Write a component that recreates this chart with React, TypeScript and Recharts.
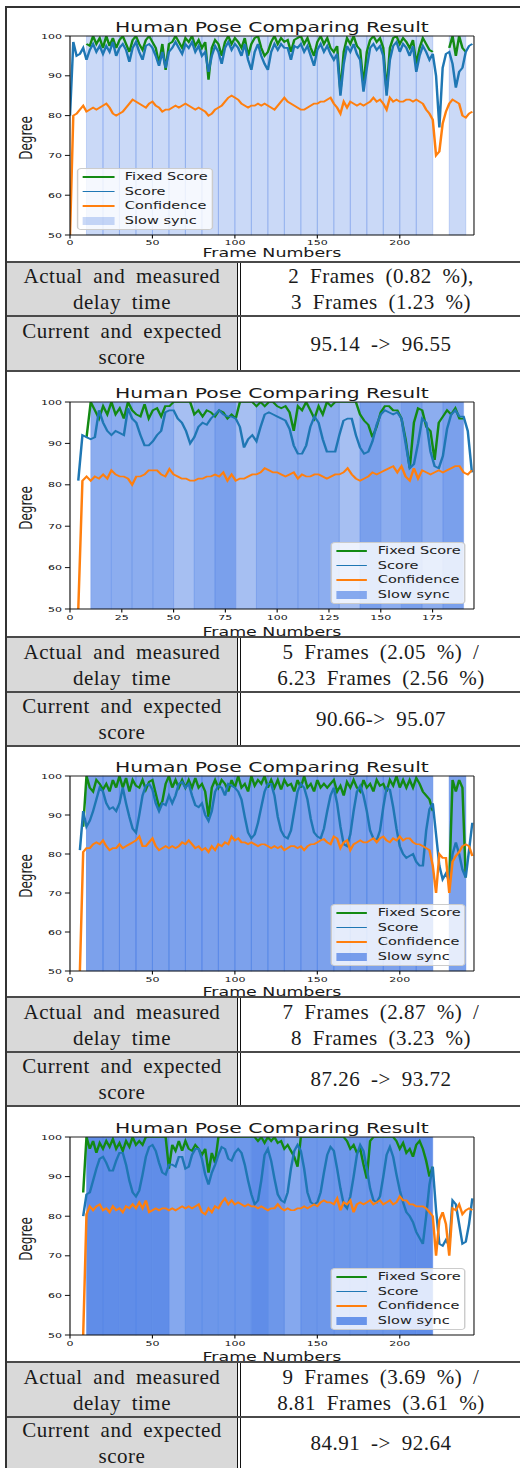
import React from 'react';
import { LineChart, Line, XAxis, YAxis, ReferenceArea, ReferenceLine } from 'recharts';

// ---------- shared labels ----------
const TITLE = 'Human Pose Comparing Result';
const X_LABEL = 'Frame Numbers';
const Y_LABEL = 'Degree';
const SERIES_NAMES = ['Fixed Score', 'Score', 'Confidence', 'Slow sync'];
const ROW_LABELS = [
  ['Actual and measured', 'delay time'],
  ['Current and expected', 'score'],
];
const Y_TICKS = [50, 60, 70, 80, 90, 100];
const X_TICKS_A = [0, 50, 100, 150, 200];
const X_TICKS_B = [0, 25, 50, 75, 100, 125, 150, 175];

// ---------- panel 1 (frames 0..244 step 2) ----------
const p1Frames = Array.from({ length: 123 }, (_, i) => i * 2);
const p1Score = [
  80, 98.5, 95, 95.5, 97, 94, 96.5, 98, 96, 97.5,
  95.5, 97.5, 96, 98.5, 95, 97, 98, 96.5, 93.5, 97,
  98.5, 96, 94, 97.5, 98, 97, 95, 92.5, 96, 92,
  96, 97, 98.5, 97, 95.5, 98, 97, 98.5, 96, 97.5,
  95, 96, 91, 95, 97.5, 96, 93, 97, 98.5, 96.5,
  98, 97, 95, 98, 94, 91.5, 96, 98, 95, 93,
  91.5, 96, 98, 96.5, 98, 97, 97, 94, 97.5, 97,
  98, 96, 97.5, 95, 92.5, 96.5, 98, 96, 97.5, 95.5,
  94, 95.5, 85, 93, 97.5, 96, 98, 95.5, 94, 86,
  92, 97, 98, 96.5, 97.5, 95, 85, 94, 97.5, 98.5,
  96, 98, 97, 95, 97.5, 91, 95, 97.5, 96, 94,
  95.5, 90, 77, 92, 95.5, 96, 93, 87, 91, 92,
  96, 97.5, 98,
];
const p1Fixed = [
  null, null, null, null, null, 98, 97.5, 100, 98, 99.5,
  97, 100, 97.5, 99.5, 97, 99, 100, 98, 96, 99,
  100, 98, 96.5, 99, 100, 98.5, 97, 93, 98, 91.5,
  98, 98.5, 100, 98.5, 97, 99.5, 98.5, 100, 97.5, 99,
  97, 98.5, 89, 97, 99, 98, 95, 98.5, 100, 98,
  99.5, 98.5, 97, 99.5, 95, 98, 99.5, 100, 97, 95,
  96, 98.5, 100, 98, 99.5, 98.5, 99, 96, 99, 99.5,
  100, 98, 99.5, 97, 95, 98.5, 100, 98, 99.5, 97,
  96, 97.5, 86, 96, 99.5, 98, 100, 97.5, 96.5, 87.5,
  96, 99, 100, 98.5, 99.5, 97, 86, 97, 99.5, 100,
  98, 99.5, 98.5, 97, 99, 93, 97, 99.5, 98, 96.5,
  96, null, null, null, null, 97, 100, 95, 100, 97,
  96, null, null,
];
const p1Conf = [
  50, 80, 80.5, 81.5, 82.5, 81, 81.5, 82, 81.5, 82,
  82.5, 83, 82, 80.5, 80, 80.5, 81, 82, 83, 84,
  83.5, 83, 82.5, 82, 83, 83.5, 82.5, 82, 81, 81.5,
  81.5, 82, 82.5, 82, 82.5, 83, 82.5, 82, 81.5, 82,
  81.5, 81, 80, 80.5, 81.5, 82, 82.5, 83.5, 84.5, 85,
  84.5, 84, 83, 82.5, 82, 82.5, 82.5, 83, 82.5, 83,
  82.5, 82, 81.5, 82.5, 83.5, 84.5, 83.5, 83, 82.5, 82,
  81.5, 81.5, 82, 82.5, 83, 83, 83.5, 83.5, 84, 84.5,
  83, 82, 80.5, 83.5, 82, 83.5, 83, 82.5, 83, 82.5,
  83, 83.5, 84.5, 83.5, 84, 83, 81.5, 84.5, 83.5, 84,
  83.5, 83.5, 84, 84, 83.5, 84, 83.5, 83, 81.5, 80.5,
  79, 70, 71, 78, 81, 83, 84, 83.5, 83, 80,
  79.5, 80.5, 81,
];
const p1Sync = [
  [10, 20, 1], [20, 30, 1], [30, 40, 1], [40, 50, 1], [50, 60, 1], [60, 70, 1],
  [70, 80, 1], [80, 90, 1], [90, 100, 1], [100, 110, 1], [110, 120, 1], [120, 130, 1],
  [130, 140, 1], [140, 150, 1], [150, 160, 1], [160, 170, 1], [170, 180, 1], [180, 190, 1],
  [190, 200, 1], [200, 210, 1], [210, 220, 1], [230, 240, 1],
];
const p1Delay = ['2 Frames (0.82 %),', '3 Frames (1.23 %)'];
const p1Result = '95.14 -> 96.55';

// ---------- panel 2 (frames 0..194 step 2) ----------
const p2Frames = Array.from({ length: 98 }, (_, i) => i * 2);
const p2Score = [
  null, null, 81, 92, 91.5, 91, 91.5, 98, 95, 93,
  92, 93, 92.5, 92, 98.5, 96, 95, 92, 89.5, 89.5,
  90.5, 92, 93, 97.5, 98, 98, 96, 95, 93, 90,
  91.5, 94, 95, 94.5, 96, 97, 98, 97, 96.5, 96.5,
  96, 94, 89, 91, 92, 90.5, 94, 97, 97.5, 97,
  96.5, 96, 95.5, 93.5, 89.5, 87.5, 87.5, 89.5, 94, 96.5,
  95, 91, 88, 88, 88, 92, 95.5, 96, 96, 92,
  89, 87.5, 88, 90.5, 94.5, 97, 98, 97.5, 97, 97.5,
  96, 90, 84, 85, 90, 96, 95, 88, 84.5, 84,
  87, 93.5, 97, 98, 96.5, 96.5, 93, 83,
];
const p2Fixed = [
  null, null, null, null, 91.5, 100, 98, 96, 99, 97,
  100, 97, 98.5, 96, 100, 98, 97, 96.5, 99.5, 96,
  98, 98.5, 96.5, 99, 99, 100, 100, 100, 100, 100,
  97, 98, 96.5, 98, 97.5, 96.5, 98, 97.5, 96, 97,
  96, 100, 100, 100, 100, 99, 100, 99, 100, 100,
  99, 98.5, 99, 97.5, 93, 99, 98, 100, 98, 96,
  99, 97, 100, 99, 100, 100, 100, 100, 100, 100,
  97, 95.5, 94.5, 91.5, 94, 97.5, 99, 99, 98, 98,
  96, 91, 84, 95, 98.5, 98, 94, 93, 86, 95,
  96.5, 98, 97, 98.5, 96, 96, null, null,
];
const p2Conf = [
  null, null, 50, 81, 82, 81, 82, 81.5, 82.5, 81.5,
  83.5, 82.5, 82, 82, 81.5, 80, 82, 82, 82.5, 83.5,
  83.5, 83.5, 82.5, 82, 83.8, 82.5, 82, 81.5, 81.5, 81,
  81, 81.5, 81.5, 82, 82, 82.5, 82, 83, 81, 82.5,
  81, 81.5, 81.5, 82, 82.5, 82.5, 83, 84, 83.5, 83,
  83, 82.5, 82, 82.5, 83, 81.5, 82.5, 82, 82, 82.5,
  82.5, 82, 81.5, 82, 82.5, 82.5, 83, 84, 82.5, 81.5,
  81, 81.5, 82, 83, 82.5, 83, 83.5, 84, 84.5, 83,
  84.5, 82, 81, 84, 81.5, 83.5, 83, 82.5, 83, 83.5,
  83, 83.5, 84, 84.5, 84.5, 83, 82.5, 83.5,
];
const p2Sync = [
  [10, 20, 3], [20, 30, 3], [30, 40, 3], [40, 50, 3], [50, 60, 2], [60, 70, 3],
  [70, 80, 4], [80, 90, 2], [90, 100, 3], [100, 110, 3], [110, 120, 3], [120, 130, 3],
  [130, 140, 2], [140, 150, 4], [150, 160, 3], [160, 170, 4], [170, 180, 3], [180, 190, 4],
];
const p2Delay = ['5 Frames (2.05 %) /', '6.23 Frames (2.56 %)'];
const p2Result = '90.66-> 95.07';

// ---------- panel 3 (frames 0..244 step 2) ----------
const p3Frames = Array.from({ length: 123 }, (_, i) => i * 2);
const p3Score = [
  null, null, null, 81, 91, 87, 88.5, 91, 94, 97,
  96, 93, 91.5, 92, 91, 93, 97, 93, 89.5, 86.5,
  85.5, 90, 95, 97.5, 98, 96.5, 93, 91, 93, 92.5,
  95, 93, 95, 98, 98.5, 97, 98, 95, 92.5, 92,
  93, 90, 88.5, 91, 96, 97.5, 97, 95, 98, 97.5,
  97, 96, 94, 89.5, 85.5, 84, 85, 88, 92, 96,
  98, 98, 95, 89.5, 86, 84.5, 84, 86, 91, 96,
  98, 97, 94, 89, 85.5, 84.5, 84, 86.5, 91, 95,
  97, 93, 87, 82.5, 82, 85, 91, 96, 97.5, 95,
  91, 86, 84, 83.5, 86, 92, 97, 96.5, 92, 86.5,
  82, 80, 79, 79.5, 80, 78, 77, 77, 86, 91.5,
  93, 85, 77, 73.5, 75, 73, 80, 83, 80, 76,
  74, 81, 88,
];
const p3Fixed = [
  null, null, null, null, 87, 100, 97, 96, 99, 98,
  96.5, 98, 96, 99, 97, 100, 97, 99.5, 96, 99,
  97.5, 97, 99, 96.5, 98.5, 99, 95.5, 92, 93.5, 98,
  100, 97, 99, 97, 99, 97, 99, 97, 99.5, 97,
  98, 96, 89.5, 97, 99, 97, 99, 98, 96, 99,
  97, 100, 97, 98, 96, 100, 97.5, 99, 98, 100,
  97, 99, 97, 99, 96.5, 99, 97.5, 98, 96, 99,
  97, 100, 97, 98, 96, 99, 97, 98, 97, 98,
  99, 96, 97.5, 95, 98.5, 97, 99, 97, 96, 99,
  97, 98, 96, 99, 97.5, 98, 96, 99, 97.5, 100,
  97, 99, 97, 99, 97, 99.5, 98, 96, 95, 94,
  91, null, null, null, null, 73, 99, 96, 99, 97,
  74, null, null,
];
const p3Conf = [
  null, null, null, 50, 80.5, 81.5, 81.5, 82.5, 83, 82.5,
  83.5, 82, 81, 81.5, 81.5, 82.5, 81.5, 82, 82.5, 83,
  83.5, 84.5, 82, 82, 83, 84, 82, 81, 81.5, 82,
  81.5, 82, 81.5, 82, 83, 82.5, 83.5, 82.5, 81.5, 82,
  81, 81.5, 80.5, 82, 81, 82.5, 82, 83, 82.5, 84.5,
  83.5, 84, 83, 83, 82.5, 83, 82.5, 82, 82.5, 82.5,
  82, 81.5, 82, 81.5, 82, 81, 81.5, 82, 82, 81.5,
  82, 81, 82, 82.5, 82.5, 83, 83.5, 83.8, 83, 82.5,
  84.5, 84, 81.5, 83, 83.5, 81, 82.5, 83, 83.5, 83,
  83, 83.5, 84, 83, 84, 84.5, 83.5, 83, 84, 83.5,
  84.5, 83.5, 84, 84, 83, 82.5, 82.5, 82, 81.5, 81,
  77, 70, 80, 79, 79, 70, 78, 79.5, 80.5, 82,
  82.5, 82, 79.5,
];
const p3Sync = [
  [10, 20, 1], [20, 30, 1], [30, 40, 1], [40, 50, 1], [50, 60, 1], [60, 70, 1],
  [70, 80, 1], [80, 90, 1], [90, 100, 1], [100, 110, 1], [110, 120, 1], [120, 130, 1],
  [130, 140, 1], [140, 150, 1], [150, 160, 1], [160, 170, 1], [170, 180, 1], [180, 190, 1],
  [190, 200, 1], [200, 210, 1], [210, 220, 1], [230, 240, 1],
];
const p3Delay = ['7 Frames (2.87 %) /', '8 Frames (3.23 %)'];
const p3Result = '87.26 -> 93.72';

// ---------- panel 4 (frames 0..244 step 2) ----------
const p4Frames = Array.from({ length: 123 }, (_, i) => i * 2);
const p4Score = [
  null, null, null, null, 80, 85.5, 86, 89, 92, 94.5,
  95, 93.5, 91.5, 91.5, 94, 96, 96, 93, 89, 86,
  85, 86.5, 90.5, 95, 97.5, 98, 96.5, 93.5, 91, 90.5,
  93, 93, 92.5, 95, 95, 92, 92.5, 95.5, 97, 97,
  94.5, 90.5, 88, 91, 93, 95.5, 97.5, 97, 94.5, 94,
  96, 97, 96, 93, 89, 85.5, 83, 84, 89, 95.5,
  97, 94, 89.5, 85.5, 84, 83.5, 86, 92, 96.5, 98,
  96.5, 92, 86, 83.5, 83, 83.5, 86, 91, 95.5, 97.5,
  96.5, 92, 87, 83, 82, 85, 90, 95.5, 98, 96.5,
  92, 87, 84, 83.5, 85, 90, 95.5, 97.5, 95, 90.5,
  86.5, 83.5, 81, 80, 78.5, 76, 74.5, 73, 80, 88,
  92.5, 81.5, 73, 72.5, 74, 72.5, 84, 83, 78, 73,
  73.5, 78, 84.5,
];
const p4Fixed = [
  null, null, null, null, 86, 100, 97, 99, 96, 98.5,
  97, 99, 97.5, 99.5, 97, 98.5, 96.5, 99, 97.5, 100,
  98, 99, 98, 100, 100, 100, 100, 100, 100, 100,
  92, 98, 96.5, 99, 96.5, 99, 97, 96.5, 98, 97,
  95.5, 97, 91, 96, 93.5, 100, 100, 100, 100, 100,
  100, 100, 100, 100, 100, 100, 100, 99, 100, 98.5,
  100, 99, 100, 98.5, 99, 97, 98, 96.5, 95, 92.5,
  100, 100, 100, 100, 100, 100, 100, 100, 100, 100,
  100, 100, 100, 100, 99, 97, 98, 96, 97, 93,
  89.5, 99, 100, 100, 100, 100, 100, 100, 100, 99,
  97, 98.5, 96, 97, 95, 98, 99, 97, 94, 90,
  92.5, null, null, null, null, null, null, null, null, null,
  null, null, null,
];
const p4Conf = [
  null, null, null, null, 50, 80.5, 82.5, 81.5, 82.5, 83,
  81.5, 82, 81, 82.5, 81.5, 82, 81, 82.5, 82, 83,
  82, 83.5, 82, 84, 81, 81.5, 82, 81.5, 82, 82,
  81.5, 82, 81.5, 82, 82.5, 82, 82.5, 82, 82.5, 83,
  81, 80.5, 82, 81, 82.5, 82, 83.5, 84.5, 83, 84,
  83, 83.5, 83, 82.5, 83, 82.5, 82.5, 82, 82.5, 82,
  81.5, 82, 82, 83, 82, 81.5, 82, 81.5, 81.5, 82,
  82, 82.5, 82, 82.5, 83, 82.5, 83.5, 84, 83.5, 83.5,
  83, 84.5, 81.5, 83.5, 83, 84, 81, 83, 83.5, 83,
  83.5, 84, 83, 83.5, 84, 83, 83.5, 84, 83, 83.5,
  85, 84, 84, 83, 83, 82.5, 82.5, 82.5, 82, 81,
  80, 70, 79, 81, 78, 70, 82, 81.5, 83, 80.5,
  81.5, 82, 81.5,
];
const p4Sync = [
  [10, 20, 4], [20, 30, 4], [30, 40, 4], [40, 50, 4], [50, 60, 4], [60, 70, 2],
  [70, 80, 3], [80, 90, 3], [90, 100, 3], [100, 110, 3], [110, 120, 4], [120, 130, 3],
  [130, 140, 2], [140, 150, 3], [150, 160, 3], [160, 170, 3], [170, 180, 3], [180, 190, 3],
  [190, 200, 3], [200, 210, 4], [210, 220, 4],
];
const p4Delay = ['9 Frames (3.69 %) /', '8.81 Frames (3.61 %)'];
const p4Result = '84.91 -> 92.64';

// ---------- styling / layout ----------
const SX = 1.45;
const CW = 520 / SX;
const PLOT_L = 70 / SX;
const PLOT_R = 474 / SX;
const PLOT_W = PLOT_R - PLOT_L;
const BAND = '#5082e6';
const C_FIXED = '#138a13';
const C_SCORE = '#1f77b4';
const C_CONF = '#ff7f0e';
const SANS = "'DejaVu Sans', Verdana, sans-serif";
const SERIF = "'Liberation Serif', 'DejaVu Serif', 'Times New Roman', serif";

type Series = (number | null)[];
type PanelCfg = {
  chartTop: number; tableTop: number; tableMid: number; tableBottom: number;
  plotTop: number; plotH: number; xMax: number; xTicks: number[];
  tickGap: number; xLabelGap: number;
  frames: number[]; fixed: Series; score: Series; conf: Series;
  sync: number[][]; alpha: number; legendLayers: number; legendLeft: boolean;
  delay: string[]; result: string;
};

const panels: PanelCfg[] = [
  {
    chartTop: 8, tableTop: 262, tableMid: 316, tableBottom: 371, plotTop: 28, plotH: 199,
    xMax: 245, xTicks: X_TICKS_A, tickGap: 1, xLabelGap: 17.5,
    frames: p1Frames, fixed: p1Fixed, score: p1Score, conf: p1Conf,
    sync: p1Sync, alpha: 0.3, legendLayers: 1, legendLeft: true, delay: p1Delay, result: p1Result,
  },
  {
    chartTop: 372, tableTop: 637, tableMid: 692, tableBottom: 746, plotTop: 30, plotH: 207,
    xMax: 195, xTicks: X_TICKS_B, tickGap: 2.5, xLabelGap: 22.5,
    frames: p2Frames, fixed: p2Fixed, score: p2Score, conf: p2Conf,
    sync: p2Sync, alpha: 0.3, legendLayers: 3, legendLeft: false, delay: p2Delay, result: p2Result,
  },
  {
    chartTop: 747, tableTop: 997, tableMid: 1052, tableBottom: 1106, plotTop: 29, plotH: 195,
    xMax: 245, xTicks: X_TICKS_A, tickGap: 2, xLabelGap: 21,
    frames: p3Frames, fixed: p3Fixed, score: p3Score, conf: p3Conf,
    sync: p3Sync, alpha: 0.75, legendLayers: 1, legendLeft: false, delay: p3Delay, result: p3Result,
  },
  {
    chartTop: 1107, tableTop: 1362, tableMid: 1417, tableBottom: 1468, plotTop: 30, plotH: 198,
    xMax: 245, xTicks: X_TICKS_A, tickGap: 2, xLabelGap: 21.5,
    frames: p4Frames, fixed: p4Fixed, score: p4Score, conf: p4Conf,
    sync: p4Sync, alpha: 0.45, legendLayers: 3, legendLeft: false, delay: p4Delay, result: p4Result,
  },
];

function LegendBox({ left, top, bandOpacity }: { left: number; top: number; bandOpacity: number }) {
  const colors = [C_FIXED, C_SCORE, C_CONF, BAND];
  return (
    <div style={{
      position: 'absolute', left, top, width: 136 / SX, height: 62, boxSizing: 'border-box',
      border: '1px solid #cccccc', borderRadius: 3, background: 'rgba(255,255,255,0.8)',
    }}>
      {SERIES_NAMES.map((name, i) => (
        <div key={name} style={{ position: 'absolute', left: 0, top: 1 + i * 14.5, height: 14, width: '100%' }}>
          {i < 3 ? (
            <div style={{ position: 'absolute', left: 3, top: 6.2, width: 21.5, height: 1.7, background: colors[i] }} />
          ) : (
            <div style={{ position: 'absolute', left: 3, top: 3, width: 21.5, height: 8, background: BAND, opacity: bandOpacity }} />
          )}
          <div style={{
            position: 'absolute', left: 32, top: 0, lineHeight: '14px', fontSize: 10,
            fontFamily: SANS, color: '#222', whiteSpace: 'nowrap',
          }}>{name}</div>
        </div>
      ))}
    </div>
  );
}

function ChartPanel({ cfg }: { cfg: PanelCfg }) {
  const H = cfg.tableTop - cfg.chartTop;
  const xAxisH = H - cfg.plotTop - cfg.plotH;
  const rows = cfg.frames.map((f, i) => ({ frame: f, fixed: cfg.fixed[i], score: cfg.score[i], conf: cfg.conf[i] }));
  const op = (n: number) => 1 - Math.pow(1 - cfg.alpha, n);
  const legW = 136 / SX;
  const legLeft = cfg.legendLeft ? PLOT_L + 7 / SX : PLOT_R - 8 / SX - legW;
  const plotBottom = cfg.plotTop + cfg.plotH;
  const legTop = plotBottom - 5 - 62;
  const tickStyle = { fontSize: 7.6, fill: '#111', fontFamily: SANS };
  return (
    <div style={{
      position: 'absolute', left: 0, top: cfg.chartTop, width: CW, height: H,
      transform: `scaleX(${SX})`, transformOrigin: '0 0',
    }}>
      <LineChart width={CW} height={H} data={rows} margin={{ top: cfg.plotTop, right: CW - PLOT_R, bottom: 0, left: 0 }}>
        <XAxis
          dataKey="frame" type="number" domain={[0, cfg.xMax]} ticks={cfg.xTicks} interval={0}
          allowDataOverflow height={xAxisH} tickSize={3.5} tickMargin={cfg.tickGap}
          axisLine={{ stroke: '#111', strokeWidth: 1 }} tickLine={{ stroke: '#111', strokeWidth: 0.8 }} tick={tickStyle}
        />
        <YAxis
          type="number" domain={[50, 100]} ticks={Y_TICKS} interval={0} allowDataOverflow
          width={PLOT_L} tickSize={3.5} tickMargin={2}
          axisLine={{ stroke: '#111', strokeWidth: 0.8 }} tickLine={{ stroke: '#111', strokeWidth: 1 }} tick={tickStyle}
        />
        {cfg.sync.map(([a, b, n], i) => (
          <ReferenceArea
            key={i} x1={a} x2={b} y1={50} y2={100} fill={BAND} fillOpacity={op(n)}
            stroke={BAND} strokeOpacity={Math.min(0.6, cfg.alpha * 0.9)} strokeWidth={0.7}
          />
        ))}
        <Line type="linear" dataKey="fixed" stroke={C_FIXED} strokeWidth={1.7} dot={false} activeDot={false} isAnimationActive={false} />
        <Line type="linear" dataKey="score" stroke={C_SCORE} strokeWidth={1.7} dot={false} activeDot={false} isAnimationActive={false} />
        <Line type="linear" dataKey="conf" stroke={C_CONF} strokeWidth={1.7} dot={false} activeDot={false} isAnimationActive={false} />
        <ReferenceLine y={100} stroke="#222" strokeWidth={1} />
        <ReferenceLine x={cfg.xMax} stroke="#222" strokeWidth={0.8} />
      </LineChart>
      <div style={{
        position: 'absolute', left: PLOT_L, width: PLOT_W, top: cfg.plotTop - 17, lineHeight: '16px',
        textAlign: 'center', fontSize: 14, fontFamily: SANS, color: '#1a1a1a', whiteSpace: 'nowrap',
      }}>{TITLE}</div>
      <div style={{
        position: 'absolute', left: PLOT_L, width: PLOT_W, top: plotBottom + cfg.xLabelGap - 6, lineHeight: '12px',
        textAlign: 'center', fontSize: 12, fontFamily: SANS, color: '#1a1a1a', whiteSpace: 'nowrap',
      }}>{X_LABEL}</div>
      <div style={{
        position: 'absolute', left: 26 / SX, top: cfg.plotTop + cfg.plotH / 2 + 2.5,
        transform: 'translate(-50%, -50%) rotate(-90deg)', fontSize: 12, lineHeight: '12px',
        fontFamily: SANS, color: '#1a1a1a', whiteSpace: 'nowrap',
      }}>{Y_LABEL}</div>
      <LegendBox left={legLeft} top={legTop} bandOpacity={op(cfg.legendLayers)} />
    </div>
  );
}

function Cell({ left, width, top, height, lines }: { left: number; width: number; top: number; height: number; lines: string[] }) {
  return (
    <div style={{
      position: 'absolute', left, width, top, height, display: 'flex', flexDirection: 'column',
      justifyContent: 'center', alignItems: 'center', fontFamily: SERIF, fontSize: 21, lineHeight: '26px',
      letterSpacing: 0.5, wordSpacing: 5, color: '#1a1a1a', whiteSpace: 'nowrap',
    }}>
      {lines.map((l, i) => <div key={i}>{l}</div>)}
    </div>
  );
}

function HLine({ y }: { y: number }) {
  return <div style={{ position: 'absolute', left: 5, width: 515, top: y - 1, height: 2, background: '#4a4a4a' }} />;
}

function InfoTable({ cfg }: { cfg: PanelCfg }) {
  const t = cfg.tableTop, m = cfg.tableMid, b = cfg.tableBottom;
  return (
    <>
      <div style={{ position: 'absolute', left: 7, top: t, width: 230, height: b - t, background: '#d9d9d9' }} />
      <Cell left={7} width={230} top={t} height={m - t} lines={ROW_LABELS[0]} />
      <Cell left={7} width={230} top={m} height={b - m} lines={ROW_LABELS[1]} />
      <Cell left={242} width={278} top={t} height={m - t} lines={cfg.delay} />
      <Cell left={242} width={278} top={m} height={b - m} lines={[cfg.result]} />
      <div style={{ position: 'absolute', left: 236.5, top: t, width: 1.2, height: b - t, background: '#111' }} />
      <div style={{ position: 'absolute', left: 240, top: t, width: 1.2, height: b - t, background: '#111' }} />
      <HLine y={t} />
      <HLine y={m} />
      {b < 1468 ? <HLine y={b} /> : null}
    </>
  );
}

export default function App() {
  return (
    <div style={{ position: 'absolute', left: 0, top: 0, width: 520, height: 1468, overflow: 'hidden', background: '#fff' }}>
      {panels.map((p, i) => <ChartPanel key={i} cfg={p} />)}
      {panels.map((p, i) => <InfoTable key={'t' + i} cfg={p} />)}
      <div style={{ position: 'absolute', left: 5, top: 6, width: 515, height: 2, background: '#333' }} />
      <div style={{ position: 'absolute', left: 5, top: 6, width: 1.6, height: 1462, background: '#333' }} />
    </div>
  );
}
